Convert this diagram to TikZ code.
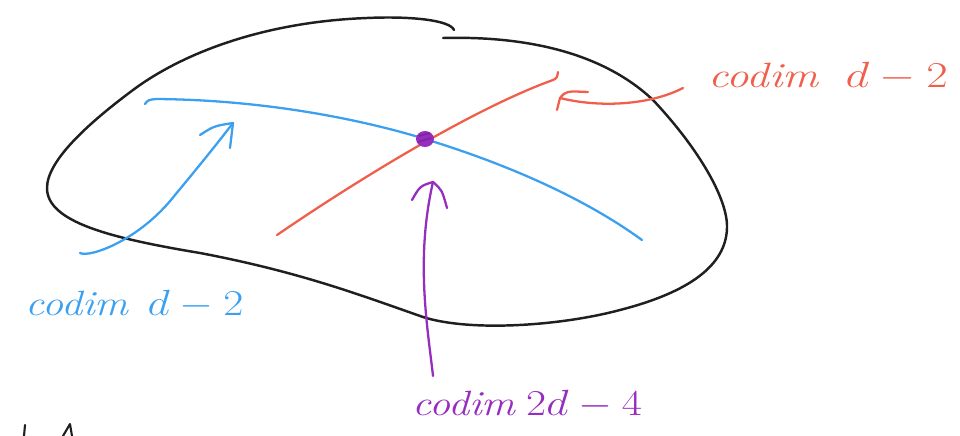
\documentclass[tikz,border=0pt]{standalone}
\usepackage{fontspec}
\newcommand{\handlab}[2][1.28]{\scalebox{#1}[1]{#2}}
\begin{document}
\begin{tikzpicture}[x=0.02cm,y=-0.02cm,
  blob/.style={draw=black!88,line width=1.4pt,line cap=round,line join=round},
  bluepen/.style={draw=cblue,line width=1.3pt,line cap=round,line join=round},
  redpen/.style={draw=cred,line width=1.3pt,line cap=round,line join=round},
  purppen/.style={draw=cpurp,line width=1.3pt,line cap=round,line join=round},
  lab/.style={inner sep=0pt,font=\itshape\fontsize{20}{24}\selectfont}]
\definecolor{cblue}{RGB}{60,160,240}
\definecolor{cred}{RGB}{240,95,75}
\definecolor{cpurp}{RGB}{150,45,190}
\useasboundingbox (0,0) rectangle (960,436);
% the region
\draw[blob] (443,38) .. controls (520,36) and (600,50) .. (653,100)
  .. controls (700,150) and (728,200) .. (727,228)
  .. controls (726,265) and (690,292) .. (620,310)
  .. controls (560,326) and (470,332) .. (423,317)
  .. controls (360,295) and (300,272) .. (200,253)
  .. controls (110,238) and (47,222) .. (47,188)
  .. controls (47,160) and (90,122) .. (133,90)
  .. controls (180,55) and (260,22) .. (367,18)
  .. controls (410,16) and (450,20) .. (454,30);
% blue submanifold
\draw[bluepen] (145,104) .. controls (148,100) .. (156,99)
  .. controls (280,100) and (380,125) .. (425,139)
  .. controls (500,162) and (580,195) .. (642,240);
% red submanifold
\draw[redpen] (277,235) .. controls (350,185) and (470,110) .. (553,80)
  .. controls (557,78) .. (558,72);
% intersection point
\coordinate (X) at (425,139);
\fill[cpurp] (X) ellipse [x radius=9, y radius=8];
\draw[cpurp!80!black,line width=0.8pt] (419,136) -- (430,133) (418,142) -- (431,138);
% labels
\node[lab,text=cred,anchor=base west] (redlab) at (708,87) {\handlab{codim\hspace{12pt}$d-2$}};
\node[lab,text=cblue,anchor=base west] (bluelab) at (25,315) {\handlab[1.2]{codim\hspace{9pt}$d-2$}};
\node[lab,text=cpurp,anchor=base west] (purplab) at (412,415) {\handlab[1.2]{codim\hspace{5pt}$2d-4$}};
% red arrow
\coordinate (rtail) at (683,88);
\coordinate (rtip) at (560,98);
\draw[redpen] (rtail) .. controls (650,105) and (600,108) .. (rtip);
\draw[redpen] (rtip) .. controls (566,91) .. (588,92);
\draw[redpen] (rtip) -- (557,110);
% blue arrow
\coordinate (btail) at (80,253);
\coordinate (btip) at (233,123);
\draw[bluepen] (btail) .. controls (90,258) and (140,240) .. (175,195)
  .. controls (200,165) and (220,140) .. (btip);
\draw[bluepen] (btip) .. controls (214,126) .. (200,135);
\draw[bluepen] (btip) -- (230,148);
% purple arrow
\coordinate (ptail) at (433,376);
\coordinate (ptip) at (433,182);
\draw[purppen] (ptail) .. controls (428,330) and (415,260) .. (ptip);
\draw[purppen] (ptip) .. controls (420,186) .. (412,200);
\draw[purppen] (ptip) .. controls (442,190) .. (447,208);
% cut-off marks at lower left
\draw[blob,line width=1.2pt] (25,425) -- (24,436);
\draw[blob,line width=1.2pt] (63,436) -- (70,424) -- (72,436);
\end{tikzpicture}
\end{document}
